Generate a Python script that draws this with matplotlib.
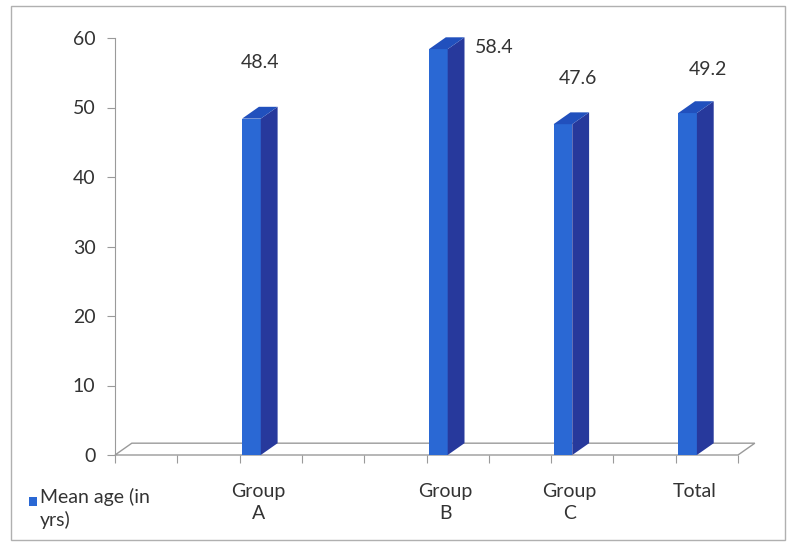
import matplotlib.pyplot as plt
from matplotlib.patches import Polygon, Rectangle

# dati: età media per gruppo
categories = ["Group\nA", "Group\nB", "Group\nC", "Total"]
mean_age = [48.4, 58.4, 47.6, 49.2]
slots = [2, 5, 7, 9]          # posizione sull'asse a 10 categorie
n_slots = 10
y_ticks = [0, 10, 20, 30, 40, 50, 60]
legend_label = "Mean age (in\nyrs)"

# spostamenti delle etichette rispetto alla barra (dx, dy)
label_offsets = [(0.28, 8.1), (1.04, 0.3), (0.39, 6.6), (0.48, 6.2)]

# effetto 3D
FRONT_L, FRONT_W = 0.04, 0.30
DEPTH_X, DEPTH_Y = 0.27, 1.7
C_FRONT, C_SIDE, C_TOP = "#2a68d4", "#27399c", "#2150bd"
GRAY = "#9a9a9a"
TXT = "#333333"
FS = 14

plt.rcParams['font.family'] = ['Lato', 'DejaVu Sans']

W, H = 787, 545
fig = plt.figure(figsize=(W / 100, H / 100), dpi=100)
px_unit = 62.3
ax = fig.add_axes([115 / W, (H - 455) / H, 10.5 * px_unit / W, (455 - 38) / H])
ax.set_xlim(0, 10.5)
ax.set_ylim(0, 60)

# pavimento
floor = Polygon([(0, 0), (n_slots, 0), (n_slots + DEPTH_X, DEPTH_Y), (DEPTH_X, DEPTH_Y)],
                closed=True, facecolor="white", edgecolor=GRAY, lw=1, clip_on=False, zorder=1)
ax.add_patch(floor)

# barre: facciata, lato e tetto
for s, v in zip(slots, mean_age):
    x0 = s + FRONT_L
    x1 = x0 + FRONT_W
    ax.bar(x0, v, width=FRONT_W, align='edge', color=C_FRONT, zorder=3)
    side = Polygon([(x1, 0), (x1 + DEPTH_X, DEPTH_Y), (x1 + DEPTH_X, v + DEPTH_Y), (x1, v)],
                   closed=True, facecolor=C_SIDE, edgecolor='none', zorder=3, clip_on=False)
    top = Polygon([(x0, v), (x1, v), (x1 + DEPTH_X, v + DEPTH_Y), (x0 + DEPTH_X, v + DEPTH_Y)],
                  closed=True, facecolor=C_TOP, edgecolor='none', zorder=3, clip_on=False)
    ax.add_patch(side)
    ax.add_patch(top)

# etichette dei valori
for s, v, (dx, dy) in zip(slots, mean_age, label_offsets):
    ax.text(s + FRONT_L + dx, v + dy, f"{v}", ha='center', va='center',
            fontsize=FS, color=TXT)

# assi
for sp in ['top', 'right']:
    ax.spines[sp].set_visible(False)
ax.spines['left'].set_color(GRAY)
ax.spines['bottom'].set_visible(False)
ax.set_yticks(y_ticks)
ax.tick_params(axis='y', direction='out', length=6, color=GRAY, labelsize=FS,
               labelcolor=TXT, pad=8)

ax.set_xticks(range(n_slots + 1))
ax.tick_params(axis='x', which='major', direction='out', length=6, color=GRAY, labelbottom=False)
ax.set_xticks([s + 0.3 for s in slots], minor=True)
ax.set_xticklabels(categories, minor=True, fontsize=FS, color=TXT, linespacing=1.35)
ax.tick_params(axis='x', which='minor', length=0, pad=20)
ax.patch.set_alpha(0)

# legenda
fig.patches.append(Rectangle((29 / W, (H - 506) / H), 8 / W, 9 / H, transform=fig.transFigure,
                             facecolor=C_FRONT, edgecolor='none'))
fig.text(40 / W, (H - 488) / H, legend_label, ha='left', va='top', fontsize=FS,
         color=TXT, linespacing=1.35)

# bordo del grafico
fig.patches.append(Rectangle((11 / W, (H - 540) / H), 774 / W, 534 / H, transform=fig.transFigure,
                             facecolor='none', edgecolor="#b0b0b0", lw=1))

fig.savefig("out.png", dpi=100)
